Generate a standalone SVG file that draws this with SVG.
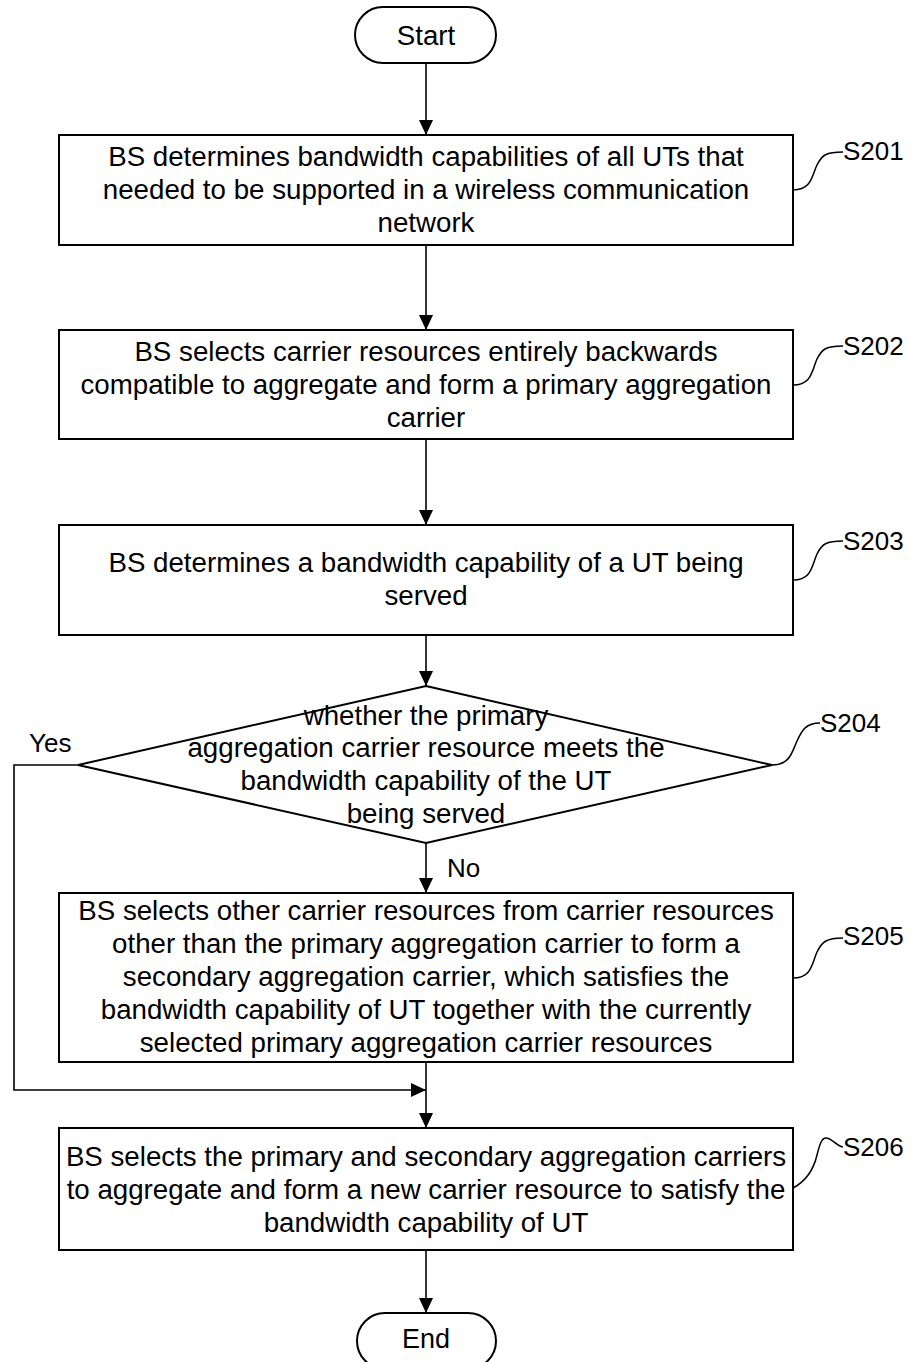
<svg xmlns="http://www.w3.org/2000/svg" width="914" height="1362" viewBox="0 0 914 1362">
<defs>
<marker id="ah" markerUnits="userSpaceOnUse" markerWidth="16" markerHeight="14" refX="15" refY="7" orient="auto">
<path d="M0,0 L15,7 L0,14 z" fill="#000"/>
</marker>
<style>
.box{fill:#fff;stroke:#000;stroke-width:2}
.t{font-family:"Liberation Sans",Arial,sans-serif;font-size:27.7px;fill:#000;text-anchor:middle}
.lbl{font-family:"Liberation Sans",Arial,sans-serif;font-size:26px;fill:#000}
.c{fill:none;stroke:#000;stroke-width:1.6}
.lead{fill:none;stroke:#000;stroke-width:1.5}
</style>
</defs>
<rect width="914" height="1362" fill="#fff"/>
<g id="connectors">
<line class="c" x1="426" y1="63" x2="426" y2="135" marker-end="url(#ah)"/>
<line class="c" x1="426" y1="245" x2="426" y2="330" marker-end="url(#ah)"/>
<line class="c" x1="426" y1="439" x2="426" y2="525" marker-end="url(#ah)"/>
<line class="c" x1="426" y1="635" x2="426" y2="686" marker-end="url(#ah)"/>
<line class="c" x1="426" y1="843" x2="426" y2="893" marker-end="url(#ah)"/>
<line class="c" x1="426" y1="1062" x2="426" y2="1128" marker-end="url(#ah)"/>
<polyline class="c" points="78,765 14,765 14,1090 426,1090" marker-end="url(#ah)"/>
<line class="c" x1="426" y1="1250" x2="426" y2="1313" marker-end="url(#ah)"/>
<text class="lbl" x="29" y="752">Yes</text>
<text class="lbl" x="447" y="877">No</text>
</g>
<g id="start">
<rect class="box" x="355" y="7" width="141" height="56" rx="28" ry="28"/>
<text class="t" x="426" y="45">Start</text>
</g>
<g id="S201">
<rect class="box" x="59" y="135" width="734" height="110"/>
<text class="t" x="426" y="166">BS determines bandwidth capabilities of all UTs that</text>
<text class="t" x="426" y="199">needed to be supported in a wireless communication</text>
<text class="t" x="426" y="232">network</text>
<path class="lead" d="M793,190 C812,190 812,175 817,165 C822,155 826,152 843,152"/>
<text class="lbl" x="843" y="160">S201</text>
</g>
<g id="S202">
<rect class="box" x="59" y="330" width="734" height="109"/>
<text class="t" x="426" y="361">BS selects carrier resources entirely backwards</text>
<text class="t" x="426" y="394">compatible to aggregate and form a primary aggregation</text>
<text class="t" x="426" y="427">carrier</text>
<path class="lead" d="M793,385 C812,385 812,370 817,359 C822,349 826,346 843,346"/>
<text class="lbl" x="843" y="355">S202</text>
</g>
<g id="S203">
<rect class="box" x="59" y="525" width="734" height="110"/>
<text class="t" x="426" y="572">BS determines a bandwidth capability of a UT being</text>
<text class="t" x="426" y="605">served</text>
<path class="lead" d="M793,580 C812,580 812,565 817,554 C822,544 826,541 843,541"/>
<text class="lbl" x="843" y="550">S203</text>
</g>
<g id="S204">
<polygon class="box" points="426,686 772,765 426,843 78,765"/>
<text class="t" x="426" y="725">whether the primary</text>
<text class="t" x="426" y="757">aggregation carrier resource meets the</text>
<text class="t" x="426" y="790">bandwidth capability of the UT</text>
<text class="t" x="426" y="823">being served</text>
<path class="lead" d="M772,765 C790,765 792,752 797,741 C802,730 806,723 820,723"/>
<text class="lbl" x="820" y="732">S204</text>
</g>
<g id="S205">
<rect class="box" x="59" y="893" width="734" height="169"/>
<text class="t" x="426" y="920">BS selects other carrier resources from carrier resources</text>
<text class="t" x="426" y="953">other than the primary aggregation carrier to form a</text>
<text class="t" x="426" y="986">secondary aggregation carrier, which satisfies the</text>
<text class="t" x="426" y="1019">bandwidth capability of UT together with the currently</text>
<text class="t" x="426" y="1052">selected primary aggregation carrier resources</text>
<path class="lead" d="M793,978 C812,978 812,963 817,952 C822,942 826,938 843,938"/>
<text class="lbl" x="843" y="945">S205</text>
</g>
<g id="S206">
<rect class="box" x="59" y="1128" width="734" height="122"/>
<text class="t" x="426" y="1166">BS selects the primary and secondary aggregation carriers</text>
<text class="t" x="426" y="1199">to aggregate and form a new carrier resource to satisfy the</text>
<text class="t" x="426" y="1232">bandwidth capability of UT</text>
<path class="lead" d="M793,1188 C808,1180 814,1168 817,1155 C820,1143 822,1138 826,1138 C832,1138 836,1146 843,1147"/>
<text class="lbl" x="843" y="1156">S206</text>
</g>
<g id="end">
<rect class="box" x="357" y="1313" width="139" height="56" rx="28" ry="28"/>
<text class="t" x="426" y="1348" style="font-size:27px">End</text>
</g>
</svg>
